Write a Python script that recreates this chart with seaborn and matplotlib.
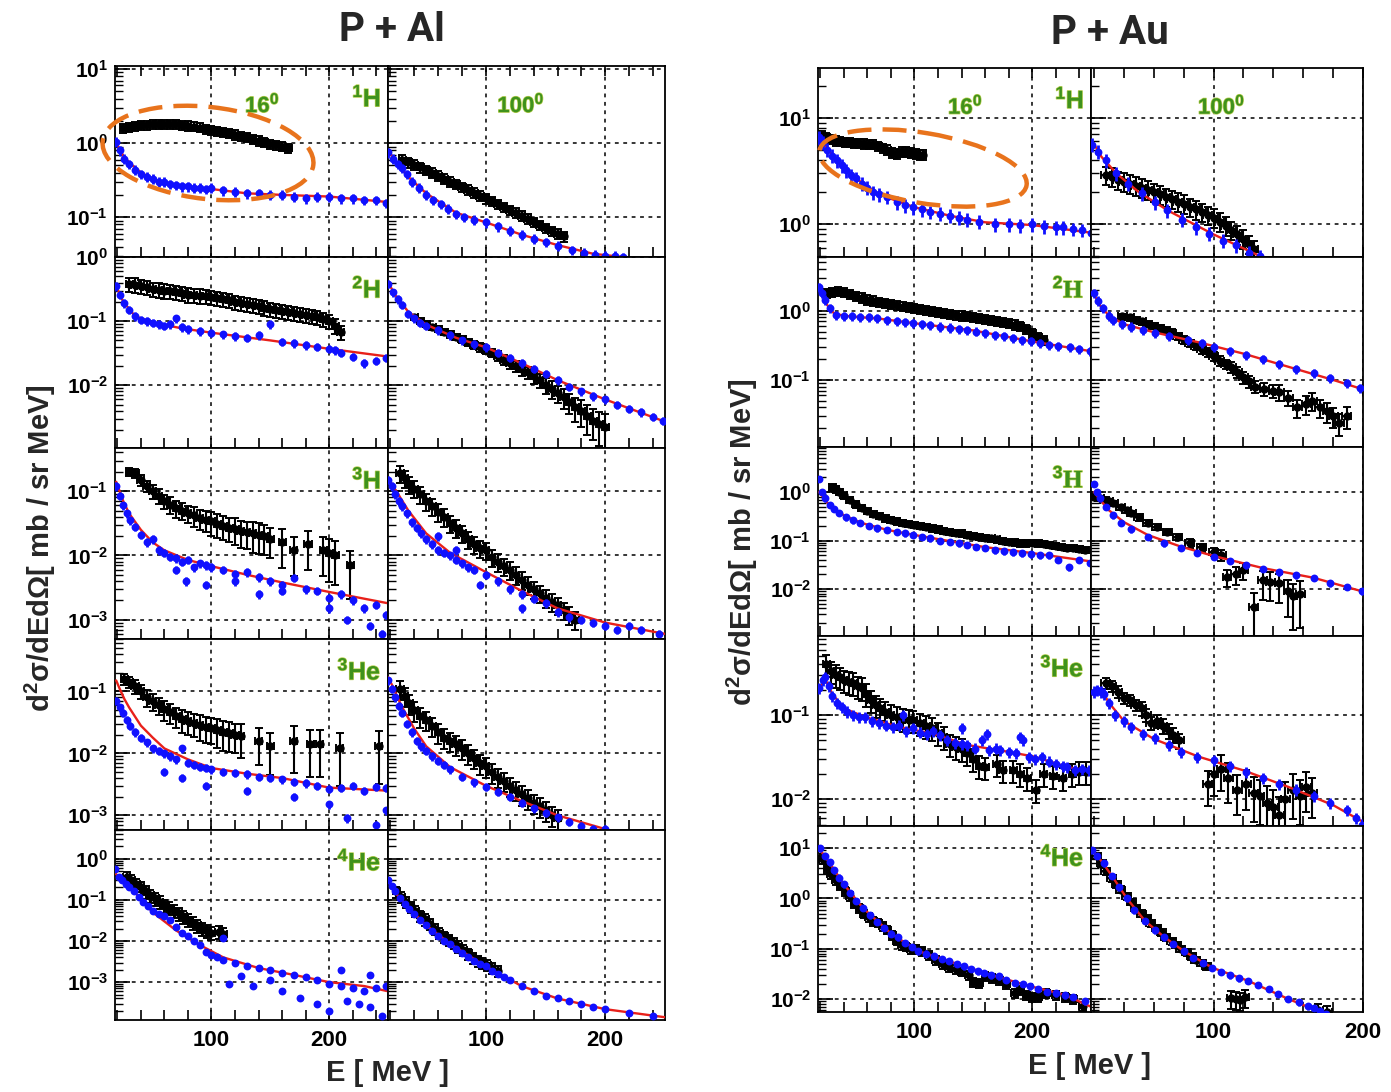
import numpy as np
import matplotlib
matplotlib.use("Agg")
import matplotlib.pyplot as plt
import matplotlib.patheffects as pe
from matplotlib import ticker
from matplotlib.patches import Ellipse
import seaborn as sns

# ============================ P + Al ============================
# ---- 1H, 16 deg
al16_h1_exp_e = [25, 30, 35, 40, 45, 50, 55, 60, 65, 70, 75, 80, 85, 90, 95, 100, 105, 110,
                 115, 120, 125, 130, 135, 140, 145, 150, 155, 160, 165]
al16_h1_exp_y = [1.60, 1.65, 1.70, 1.74, 1.77, 1.80, 1.81, 1.82, 1.81, 1.79, 1.76, 1.72, 1.67,
                 1.62, 1.56, 1.50, 1.45, 1.40, 1.35, 1.30, 1.25, 1.20, 1.14, 1.08, 1.03, 0.98,
                 0.94, 0.90, 0.86]
al16_h1_exp_dy = 0.14
al16_h1_blue_e = [19, 22, 26, 30, 35, 40, 45, 50, 55, 60, 65, 70, 75, 80, 85, 90, 95, 100, 110,
                  120, 130, 140, 150, 160, 170, 180, 190, 200, 210, 220, 230, 240, 248]
al16_h1_blue_y = [1.05, 0.80, 0.62, 0.52, 0.44, 0.38, 0.35, 0.33, 0.30, 0.30, 0.28, 0.27, 0.26,
                  0.26, 0.25, 0.25, 0.24, 0.25, 0.23, 0.22, 0.21, 0.21, 0.20, 0.20, 0.19, 0.18,
                  0.19, 0.19, 0.18, 0.18, 0.17, 0.17, 0.155]
al16_h1_red_e = [19, 25, 30, 40, 50, 60, 80, 100, 130, 160, 200, 250]
al16_h1_red_y = [1.0, 0.68, 0.55, 0.40, 0.33, 0.29, 0.26, 0.24, 0.21, 0.20, 0.19, 0.16]

# ---- 1H, 100 deg
al100_h1_exp_e = [30, 35, 40, 45, 50, 55, 60, 65, 70, 75, 80, 85, 90, 95, 100, 105, 110, 115,
                  120, 125, 130, 135, 140, 145, 150, 155, 160, 165]
al100_h1_exp_y = [0.60, 0.55, 0.51, 0.47, 0.43, 0.40, 0.36, 0.33, 0.30, 0.28, 0.255, 0.235,
                  0.215, 0.195, 0.18, 0.165, 0.15, 0.137, 0.125, 0.114, 0.104, 0.095, 0.086,
                  0.078, 0.071, 0.065, 0.060, 0.055]
al100_h1_exp_dy = 0.15
al100_h1_blue_e = [18, 22, 26, 30, 34, 38, 44, 50, 56, 62, 68, 75, 82, 90, 100, 110, 120, 130,
                   140, 150, 160, 172, 182, 191, 200, 208, 215]
al100_h1_blue_y = [0.75, 0.62, 0.52, 0.46, 0.38, 0.30, 0.25, 0.20, 0.17, 0.15, 0.13, 0.11, 0.10,
                   0.092, 0.085, 0.075, 0.066, 0.058, 0.051, 0.046, 0.041, 0.036, 0.033, 0.031,
                   0.030, 0.030, 0.029]
al100_h1_red_e = [18, 25, 35, 50, 75, 100, 130, 160, 190, 215]
al100_h1_red_y = [0.8, 0.55, 0.35, 0.21, 0.115, 0.085, 0.058, 0.042, 0.032, 0.029]

# ---- 2H, 16 deg
al16_h2_exp_e = [30, 35, 40, 45, 50, 55, 60, 65, 70, 75, 80, 85, 90, 95, 100, 105, 110, 115,
                 120, 125, 130, 135, 140, 145, 150, 155, 160, 165, 170, 175, 180, 185, 190,
                 195, 200, 205, 210]
al16_h2_exp_y = [0.38, 0.37, 0.35, 0.34, 0.32, 0.31, 0.30, 0.29, 0.28, 0.27, 0.26, 0.255, 0.25,
                 0.245, 0.24, 0.23, 0.22, 0.21, 0.20, 0.19, 0.185, 0.177, 0.17, 0.162, 0.155,
                 0.15, 0.145, 0.14, 0.135, 0.13, 0.125, 0.12, 0.115, 0.108, 0.10, 0.085, 0.068]
al16_h2_exp_dy = 0.25
al16_h2_blue_e = [19, 22, 26, 30, 35, 40, 45, 50, 55, 60, 65, 70, 75, 80, 90, 100, 110, 120,
                  130, 140, 150, 160, 170, 180, 190, 200, 205, 210, 220, 230, 240, 248]
al16_h2_blue_y = [0.35, 0.26, 0.19, 0.15, 0.12, 0.105, 0.10, 0.095, 0.09, 0.085, 0.09, 0.11,
                  0.08, 0.075, 0.07, 0.066, 0.062, 0.058, 0.055, 0.06, 0.09, 0.048, 0.045,
                  0.042, 0.04, 0.037, 0.035, 0.032, 0.028, 0.022, 0.024, 0.027]
al16_h2_red_e = [19, 25, 35, 50, 75, 100, 150, 200, 250]
al16_h2_red_y = [0.35, 0.20, 0.12, 0.095, 0.077, 0.066, 0.05, 0.037, 0.028]

# ---- 2H, 100 deg
al100_h2_exp_e = [40, 45, 50, 55, 60, 65, 70, 75, 80, 85, 90, 95, 100, 105, 110, 115, 120, 125,
                  130, 135, 140, 145, 150, 155, 160, 165, 170, 175, 180, 185, 190, 195, 200]
al100_h2_exp_y = [0.115, 0.10, 0.09, 0.08, 0.075, 0.068, 0.062, 0.057, 0.052, 0.047, 0.043,
                  0.039, 0.036, 0.032, 0.029, 0.025, 0.022, 0.020, 0.018, 0.016, 0.014, 0.012,
                  0.010, 0.0088, 0.0076, 0.0065, 0.0055, 0.0045, 0.0040, 0.0033, 0.0028,
                  0.0025, 0.0022]
al100_h2_exp_dy = [0.10, 0.10, 0.10, 0.10, 0.10, 0.10, 0.12, 0.12, 0.12, 0.12, 0.15, 0.15, 0.15,
                   0.15, 0.18, 0.18, 0.2, 0.2, 0.22, 0.22, 0.25, 0.25, 0.28, 0.3, 0.3, 0.35,
                   0.35, 0.4, 0.45, 0.5, 0.5, 0.55, 0.6]
al100_h2_blue_e = [18, 22, 26, 30, 35, 40, 45, 50, 60, 70, 80, 90, 100, 110, 120, 130, 140, 150,
                   160, 170, 180, 190, 200, 210, 220, 230, 240, 248]
al100_h2_blue_y = [0.38, 0.28, 0.22, 0.18, 0.13, 0.11, 0.095, 0.085, 0.072, 0.06, 0.05, 0.044,
                   0.039, 0.032, 0.027, 0.022, 0.018, 0.015, 0.012, 0.0095, 0.008, 0.0068,
                   0.006, 0.005, 0.0043, 0.0038, 0.0032, 0.0028]
al100_h2_red_e = [18, 25, 35, 50, 75, 100, 130, 160, 200, 250]
al100_h2_red_y = [0.40, 0.24, 0.14, 0.088, 0.055, 0.039, 0.022, 0.012, 0.006, 0.0027]

# ---- 3H, 16 deg
al16_h3_exp_e = [30, 35, 40, 45, 50, 55, 60, 65, 70, 75, 80, 85, 90, 95, 100, 105, 110, 115,
                 120, 125, 130, 135, 140, 145, 150, 160, 170, 182, 195, 200, 205, 218]
al16_h3_exp_y = [0.20, 0.19, 0.15, 0.12, 0.10, 0.085, 0.07, 0.062, 0.055, 0.05, 0.045, 0.042,
                 0.038, 0.036, 0.034, 0.031, 0.029, 0.027, 0.026, 0.024, 0.023, 0.022, 0.021,
                 0.02, 0.018, 0.016, 0.012, 0.015, 0.012, 0.011, 0.01, 0.007]
al16_h3_exp_dy = [0.15, 0.15, 0.2, 0.2, 0.25, 0.25, 0.25, 0.3, 0.3, 0.3, 0.3, 0.35, 0.35, 0.35,
                  0.4, 0.4, 0.4, 0.4, 0.45, 0.45, 0.45, 0.5, 0.5, 0.5, 0.5, 0.6, 0.6, 0.6, 0.6,
                  0.65, 0.65, 0.7]
al16_h3_blue_e = [19, 22, 25, 28, 31, 35, 40, 45, 50, 55, 60, 65, 70, 75, 80, 85, 90, 95, 100,
                  110, 120, 130, 140, 150, 160, 170, 180, 190, 200, 210, 220, 230, 240, 248,
                  70, 78, 95, 120, 140, 160, 200, 215, 235, 245]
al16_h3_blue_y = [0.12, 0.085, 0.06, 0.045, 0.035, 0.028, 0.021, 0.016, 0.018, 0.012, 0.011,
                  0.0095, 0.009, 0.008, 0.0085, 0.0065, 0.0075, 0.007, 0.0066, 0.006, 0.0052,
                  0.0055, 0.0046, 0.004, 0.0035, 0.0045, 0.003, 0.0028, 0.0022, 0.0025, 0.002,
                  0.0015, 0.0017, 0.0012,
                  0.006, 0.004, 0.0035, 0.004, 0.0025, 0.0028, 0.0015, 0.001, 0.0008, 0.0006]
al16_h3_red_e = [19, 25, 30, 40, 50, 60, 80, 100, 130, 160, 200, 250]
al16_h3_red_y = [0.14, 0.07, 0.045, 0.025, 0.016, 0.012, 0.0085, 0.0068, 0.005, 0.0038, 0.0027,
                 0.0018]

# ---- 3H, 100 deg
al100_h3_exp_e = [28, 32, 36, 40, 45, 50, 55, 60, 65, 70, 75, 80, 85, 90, 95, 100, 105, 110,
                  115, 120, 125, 130, 135, 140, 145, 150, 155, 160, 165, 170, 175]
al100_h3_exp_y = [0.19, 0.16, 0.13, 0.11, 0.09, 0.07, 0.058, 0.048, 0.04, 0.032, 0.027, 0.022,
                  0.018, 0.015, 0.013, 0.012, 0.0095, 0.008, 0.0068, 0.006, 0.005, 0.0042,
                  0.0035, 0.003, 0.0026, 0.0022, 0.0019, 0.0017, 0.0014, 0.0012, 0.001]
al100_h3_exp_dy = 0.3
al100_h3_blue_e = [18, 21, 24, 27, 30, 34, 38, 42, 46, 50, 55, 60, 65, 70, 75, 80, 85, 90, 100,
                   110, 120, 130, 140, 150, 160, 170, 180, 190, 200, 210, 220, 230, 245,
                   60, 75, 95, 130]
al100_h3_blue_y = [0.15, 0.12, 0.09, 0.07, 0.058, 0.045, 0.033, 0.027, 0.022, 0.018, 0.015,
                   0.012, 0.011, 0.01, 0.0085, 0.0075, 0.0065, 0.006, 0.005, 0.004, 0.003,
                   0.0025, 0.0021, 0.0018, 0.0013, 0.0011, 0.001, 0.0009, 0.0008, 0.0007,
                   0.0008, 0.0007, 0.0006,
                   0.02, 0.012, 0.0035, 0.0015]
al100_h3_red_e = [18, 25, 35, 50, 70, 100, 130, 160, 200, 250]
al100_h3_red_y = [0.16, 0.10, 0.05, 0.022, 0.011, 0.0055, 0.0028, 0.0015, 0.0009, 0.0006]

# ---- 3He, 16 deg
al16_he3_exp_e = [26, 30, 35, 40, 45, 50, 55, 60, 65, 70, 75, 80, 85, 90, 95, 100, 105, 110,
                  115, 120, 125, 140, 150, 170, 184, 192, 209, 242]
al16_he3_exp_y = [0.16, 0.14, 0.12, 0.10, 0.08, 0.07, 0.06, 0.052, 0.046, 0.04, 0.036, 0.033,
                  0.031, 0.029, 0.027, 0.026, 0.024, 0.022, 0.021, 0.02, 0.019, 0.016, 0.013,
                  0.016, 0.014, 0.014, 0.012, 0.013]
al16_he3_exp_dy = [0.2, 0.2, 0.25, 0.25, 0.3, 0.3, 0.3, 0.35, 0.35, 0.35, 0.4, 0.4, 0.4, 0.45,
                   0.45, 0.45, 0.5, 0.5, 0.5, 0.5, 0.55, 0.6, 0.65, 0.7, 0.7, 0.7, 0.75, 0.75]
al16_he3_blue_e = [19, 22, 25, 28, 31, 35, 40, 45, 50, 55, 60, 65, 70, 75, 80, 85, 90, 95, 100,
                   110, 120, 130, 140, 150, 160, 170, 180, 190, 200, 210, 220, 230, 240, 248,
                   60, 75, 95, 130, 170, 200, 215, 240, 248]
al16_he3_blue_y = [0.07, 0.055, 0.045, 0.035, 0.028, 0.022, 0.018, 0.015, 0.012, 0.011, 0.01,
                   0.009, 0.008, 0.012, 0.007, 0.0065, 0.006, 0.0058, 0.0055, 0.005, 0.0048,
                   0.0046, 0.0042, 0.004, 0.0038, 0.0035, 0.0033, 0.003, 0.0027, 0.0028, 0.003,
                   0.0025, 0.0029, 0.0028,
                   0.005, 0.004, 0.003, 0.0025, 0.002, 0.0015, 0.0009, 0.0007, 0.0012]
al16_he3_red_e = [19, 22, 26, 30, 40, 50, 60, 80, 100, 130, 160, 200, 250]
al16_he3_red_y = [0.15, 0.11, 0.075, 0.055, 0.028, 0.018, 0.012, 0.008, 0.0058, 0.0047, 0.004,
                  0.0028, 0.0025]

# ---- 3He, 100 deg
al100_he3_exp_e = [28, 32, 36, 40, 45, 50, 55, 60, 65, 70, 75, 80, 85, 90, 95, 100, 105, 110,
                   115, 120, 125, 130, 135, 140, 145, 150, 155, 160]
al100_he3_exp_y = [0.11, 0.085, 0.065, 0.05, 0.04, 0.035, 0.028, 0.022, 0.018, 0.016, 0.014,
                   0.012, 0.01, 0.0085, 0.007, 0.0062, 0.005, 0.0042, 0.0036, 0.003, 0.0026,
                   0.0022, 0.0019, 0.0016, 0.0014, 0.0012, 0.001, 0.0009]
al100_he3_exp_dy = 0.35
al100_he3_blue_e = [18, 21, 24, 27, 30, 34, 38, 42, 46, 50, 55, 60, 65, 70, 80, 90, 100, 110,
                    120, 130, 140, 150, 160, 170, 180, 190, 200]
al100_he3_blue_y = [0.15, 0.11, 0.08, 0.058, 0.045, 0.03, 0.022, 0.016, 0.013, 0.011, 0.009,
                    0.0075, 0.0065, 0.0055, 0.0042, 0.0034, 0.0029, 0.0024, 0.002, 0.0016,
                    0.0013, 0.0011, 0.00093, 0.00078, 0.00068, 0.0006, 0.0006]
al100_he3_red_e = [18, 22, 26, 30, 40, 50, 70, 100, 130, 160, 200]
al100_he3_red_y = [0.17, 0.12, 0.08, 0.055, 0.025, 0.013, 0.006, 0.003, 0.0017, 0.001, 0.0006]

# ---- 4He, 16 deg
al16_he4_exp_e = [28, 32, 36, 40, 44, 48, 52, 56, 60, 64, 68, 72, 76, 80, 84, 88, 92, 96, 100,
                  106, 110]
al16_he4_exp_y = [0.36, 0.30, 0.24, 0.20, 0.16, 0.13, 0.11, 0.09, 0.075, 0.065, 0.055, 0.048,
                  0.04, 0.033, 0.028, 0.024, 0.02, 0.018, 0.016, 0.017, 0.015]
al16_he4_exp_dy = 0.35
al16_he4_blue_e = [18, 21, 24, 27, 30, 34, 38, 42, 46, 50, 55, 60, 65, 70, 75, 80, 85, 90, 95,
                   100, 105, 110, 120, 130, 140, 150, 160, 170, 180, 190, 200, 210, 220, 230,
                   240, 248,
                   110, 115, 125, 135, 150, 160, 175, 190, 200, 215, 225, 235, 245, 210, 235]
al16_he4_blue_y = [0.55, 0.35, 0.3, 0.25, 0.2, 0.16, 0.12, 0.09, 0.07, 0.055, 0.045, 0.04,
                   0.032, 0.022, 0.016, 0.013, 0.01, 0.008, 0.0055, 0.0045, 0.004, 0.0035,
                   0.003, 0.0024, 0.0022, 0.002, 0.0017, 0.0015, 0.0013, 0.0011, 0.0009,
                   0.0008, 0.0007, 0.0006, 0.0007, 0.0008,
                   0.012, 0.0009, 0.0014, 0.0008, 0.0011, 0.0006, 0.0004, 0.0003, 0.0002,
                   0.00035, 0.0003, 0.00025, 0.00015, 0.002, 0.0015]
al16_he4_red_e = [18, 25, 35, 50, 70, 90, 110, 140, 170, 200, 230, 250]
al16_he4_red_y = [0.45, 0.28, 0.15, 0.05, 0.018, 0.008, 0.004, 0.0022, 0.0015, 0.001, 0.0008,
                  0.0006]

# ---- 4He, 100 deg
al100_he4_exp_e = [25, 29, 33, 37, 41, 45, 49, 53, 57, 61, 65, 69, 73, 77, 81, 85, 89, 93, 97,
                   101, 105, 110]
al100_he4_exp_y = [0.16, 0.12, 0.09, 0.07, 0.055, 0.042, 0.034, 0.026, 0.02, 0.016, 0.013,
                   0.011, 0.009, 0.0075, 0.006, 0.005, 0.004, 0.0034, 0.003, 0.0026, 0.0022,
                   0.0019]
al100_he4_exp_dy = 0.3
al100_he4_blue_e = [18, 21, 24, 28, 32, 36, 40, 45, 50, 55, 60, 65, 70, 75, 80, 85, 90, 95, 100,
                    105, 110, 115, 120, 130, 140, 150, 160, 170, 180, 190, 200, 220, 240]
al100_he4_blue_y = [0.31, 0.22, 0.16, 0.11, 0.08, 0.06, 0.045, 0.032, 0.024, 0.018, 0.013,
                    0.01, 0.0085, 0.0065, 0.005, 0.004, 0.0033, 0.0028, 0.0024, 0.0019, 0.0016,
                    0.0013, 0.0011, 0.0008, 0.0006, 0.00045, 0.0004, 0.00035, 0.0003, 0.00025,
                    0.00022, 0.00018, 0.00015]
al100_he4_red_e = [18, 25, 35, 50, 70, 100, 130, 160, 200, 250]
al100_he4_red_y = [0.3, 0.14, 0.065, 0.024, 0.0085, 0.0024, 0.0008, 0.0004, 0.00022, 0.00014]

# ============================ P + Au ============================
# ---- 1H, 16 deg
au16_h1_exp_e = [21, 25, 29, 33, 37, 41, 45, 49, 53, 57, 61, 65, 69, 73, 77, 81, 85, 89, 93,
                 97, 101, 105, 107]
au16_h1_exp_y = [6.9, 6.6, 6.3, 6.1, 6.0, 5.9, 5.9, 5.8, 5.8, 5.7, 5.6, 5.6, 5.4, 5.2, 5.0,
                 4.7, 4.6, 4.8, 4.8, 4.7, 4.6, 4.5, 4.5]
au16_h1_exp_dy = 0.1
au16_h1_blue_e = [19, 22, 26, 30, 34, 38, 42, 46, 50, 55, 60, 65, 70, 77, 85, 92, 99, 106, 113,
                  122, 130, 138, 145, 155, 168, 180, 190, 200, 210, 220, 226, 235, 242, 250]
au16_h1_blue_y = [6.6, 5.9, 5.0, 4.4, 4.0, 3.6, 3.2, 2.9, 2.7, 2.4, 2.2, 2.0, 1.9, 1.8, 1.6,
                  1.5, 1.44, 1.38, 1.3, 1.25, 1.2, 1.15, 1.1, 1.05, 1.0, 1.0, 0.98, 1.0, 0.95,
                  0.93, 0.93, 0.9, 0.88, 0.83]
au16_h1_red_e = [19, 25, 35, 50, 70, 100, 130, 160, 200, 250]
au16_h1_red_y = [6.8, 5.3, 3.8, 2.7, 1.9, 1.44, 1.2, 1.04, 0.98, 0.83]

# ---- 1H, 100 deg
au100_h1_exp_e = [28, 32, 36, 40, 44, 48, 52, 56, 60, 64, 68, 72, 76, 80, 84, 88, 92, 96, 100,
                  104, 108, 112, 116, 120, 124, 127]
au100_h1_exp_y = [2.9, 2.8, 2.6, 2.5, 2.4, 2.3, 2.2, 2.1, 2.0, 1.9, 1.8, 1.72, 1.63, 1.55, 1.45,
                  1.38, 1.3, 1.22, 1.15, 1.05, 0.97, 0.88, 0.8, 0.73, 0.65, 0.58]
au100_h1_exp_dy = 0.2
au100_h1_blue_e = [19, 23, 28, 35, 43, 52, 61, 69, 79, 88, 97, 106, 115, 124, 131]
au100_h1_blue_y = [5.6, 4.8, 4.0, 3.0, 2.4, 1.95, 1.6, 1.35, 1.1, 0.93, 0.81, 0.7, 0.63, 0.54,
                   0.5]
au100_h1_red_e = [19, 25, 35, 50, 70, 100, 131]
au100_h1_red_y = [6.0, 4.3, 3.0, 2.0, 1.33, 0.8, 0.5]

# ---- 2H, 16 deg
au16_h2_exp_e = [26, 30, 35, 40, 45, 50, 55, 60, 65, 70, 75, 80, 85, 90, 95, 100, 105, 110, 115,
                 120, 125, 130, 135, 140, 145, 150, 155, 160, 165, 170, 175, 180, 185, 190,
                 195, 200, 205, 210]
au16_h2_exp_y = [1.8, 1.85, 1.9, 1.85, 1.75, 1.65, 1.55, 1.45, 1.4, 1.35, 1.3, 1.25, 1.2, 1.15,
                 1.12, 1.1, 1.05, 1.02, 0.98, 0.95, 0.92, 0.9, 0.87, 0.85, 0.83, 0.8, 0.78,
                 0.76, 0.73, 0.7, 0.68, 0.66, 0.63, 0.6, 0.55, 0.48, 0.42, 0.38]
au16_h2_exp_dy = 0.15
au16_h2_blue_e = [19, 21, 24, 28, 33, 40, 47, 54, 61, 68, 77, 85, 92, 99, 106, 113, 122, 130,
                  138, 145, 152, 160, 168, 176, 184, 191, 199, 207, 214, 222, 232, 240, 249]
au16_h2_blue_y = [2.2, 1.8, 1.45, 1.1, 0.87, 0.84, 0.83, 0.82, 0.8, 0.78, 0.74, 0.71, 0.68,
                  0.66, 0.64, 0.62, 0.59, 0.57, 0.55, 0.53, 0.5, 0.48, 0.45, 0.43, 0.4, 0.38,
                  0.36, 0.34, 0.32, 0.31, 0.3, 0.28, 0.26]
au16_h2_red_e = [19, 22, 26, 32, 45, 70, 100, 150, 200, 250]
au16_h2_red_y = [2.2, 1.6, 1.2, 0.9, 0.83, 0.77, 0.66, 0.52, 0.36, 0.26]

# ---- 2H, 100 deg
au100_h2_exp_e = [39, 44, 48, 52, 56, 60, 64, 68, 72, 76, 80, 84, 88, 92, 96, 100, 104, 108,
                  112, 116, 120, 124, 128, 134, 140, 144, 150, 156, 162, 166, 171, 176, 180,
                  184, 189]
au100_h2_exp_y = [0.83, 0.8, 0.74, 0.7, 0.65, 0.6, 0.56, 0.53, 0.48, 0.43, 0.38, 0.34, 0.31,
                  0.28, 0.25, 0.22, 0.19, 0.17, 0.155, 0.13, 0.11, 0.095, 0.08, 0.075, 0.07,
                  0.067, 0.055, 0.04, 0.045, 0.05, 0.04, 0.035, 0.03, 0.024, 0.03]
au100_h2_exp_dy = [0.1, 0.1, 0.1, 0.1, 0.1, 0.1, 0.1, 0.1, 0.12, 0.12, 0.12, 0.12, 0.12, 0.15,
                   0.15, 0.15, 0.15, 0.15, 0.18, 0.18, 0.2, 0.2, 0.2, 0.22, 0.22, 0.25, 0.25,
                   0.3, 0.3, 0.3, 0.3, 0.32, 0.32, 0.35, 0.35]
au100_h2_blue_e = [20, 23, 26, 30, 33, 39, 45, 53, 61, 70, 83, 92, 100, 111, 122, 133, 144, 155,
                   167, 178, 189, 198]
au100_h2_blue_y = [1.8, 1.4, 1.1, 0.85, 0.74, 0.65, 0.59, 0.53, 0.48, 0.43, 0.38, 0.34, 0.3,
                   0.26, 0.23, 0.2, 0.17, 0.145, 0.126, 0.105, 0.09, 0.076]
au100_h2_red_e = [19, 24, 30, 40, 60, 90, 120, 150, 180, 200]
au100_h2_red_y = [1.9, 1.2, 0.85, 0.64, 0.49, 0.35, 0.24, 0.155, 0.1, 0.073]

# ---- 3H, 16 deg
au16_h3_exp_e = [30, 33, 36, 40, 45, 50, 55, 60, 65, 70, 75, 80, 85, 90, 95, 100, 105, 110, 115,
                 120, 125, 130, 135, 140, 145, 150, 155, 160, 165, 170, 175, 180, 185, 190,
                 195, 200, 205, 210, 215, 220, 225, 230, 235, 240, 245]
au16_h3_exp_y = [1.26, 1.15, 1.0, 0.85, 0.69, 0.56, 0.47, 0.41, 0.36, 0.32, 0.29, 0.27, 0.25,
                 0.23, 0.22, 0.21, 0.2, 0.19, 0.18, 0.17, 0.16, 0.15, 0.145, 0.14, 0.13, 0.125,
                 0.12, 0.115, 0.11, 0.105, 0.1, 0.095, 0.092, 0.088, 0.088, 0.089, 0.087,
                 0.085, 0.082, 0.078, 0.075, 0.07, 0.07, 0.068, 0.065]
au16_h3_exp_dy = 0.15
au16_h3_blue_e = [19, 21, 24, 28, 32, 36, 42, 48, 54, 61, 68, 77, 85, 92, 99, 106, 113, 122,
                  130, 138, 145, 152, 160, 168, 176, 184, 191, 199, 207, 214, 222, 231, 240, 249]
au16_h3_blue_y = [1.9, 1.0, 0.75, 0.55, 0.45, 0.37, 0.3, 0.26, 0.23, 0.2, 0.18, 0.165, 0.15,
                  0.14, 0.13, 0.12, 0.11, 0.1, 0.095, 0.088, 0.081, 0.075, 0.07, 0.063, 0.06,
                  0.057, 0.055, 0.052, 0.05, 0.05, 0.04, 0.028, 0.04, 0.035]
au16_h3_red_e = [19, 22, 26, 32, 40, 55, 77, 100, 130, 160, 200, 250]
au16_h3_red_y = [1.0, 0.8, 0.6, 0.45, 0.33, 0.23, 0.165, 0.13, 0.097, 0.073, 0.055, 0.037]

# ---- 3H, 100 deg
au100_h3_exp_e = [20, 24, 27, 30, 33, 38, 42, 45, 50, 56, 62, 69, 76, 84, 92, 100, 105, 109,
                  115, 120, 127, 133, 138, 144, 150, 153, 158]
au100_h3_exp_y = [0.8, 0.75, 0.7, 0.65, 0.59, 0.48, 0.42, 0.37, 0.3, 0.23, 0.19, 0.15, 0.12,
                  0.089, 0.072, 0.059, 0.05, 0.018, 0.02, 0.025, 0.0043, 0.015, 0.014, 0.013,
                  0.009, 0.007, 0.008]
au100_h3_exp_dy = [0.12, 0.12, 0.12, 0.12, 0.12, 0.12, 0.12, 0.12, 0.15, 0.15, 0.15, 0.15,
                   0.15, 0.2, 0.2, 0.2, 0.25, 0.4, 0.4, 0.4, 0.9, 0.6, 0.6, 0.6, 0.7, 0.8, 0.8]
au100_h3_blue_e = [20, 22, 24, 28, 33, 38, 45, 56, 67, 78, 89, 100, 111, 122, 133, 144, 155,
                   167, 178, 189, 199]
au100_h3_blue_y = [1.5, 1.0, 0.75, 0.5, 0.33, 0.23, 0.17, 0.12, 0.088, 0.07, 0.056, 0.046,
                   0.038, 0.031, 0.026, 0.022, 0.019, 0.017, 0.013, 0.011, 0.009]
au100_h3_red_e = [20, 24, 30, 40, 56, 78, 100, 133, 167, 199]
au100_h3_red_y = [1.0, 0.7, 0.42, 0.24, 0.13, 0.075, 0.048, 0.027, 0.017, 0.009]

# ---- 3He, 16 deg
au16_he3_exp_e = [25, 29, 33, 37, 40, 44, 48, 52, 55, 59, 63, 67, 71, 75, 80, 85, 90, 95, 99,
                  105, 110, 115, 120, 125, 130, 135, 140, 145, 150, 155, 160, 170, 175, 184,
                  190, 196, 203, 210, 218, 226, 234, 240, 246]
au16_he3_exp_y = [0.4, 0.33, 0.3, 0.28, 0.26, 0.25, 0.24, 0.22, 0.21, 0.18, 0.15, 0.13, 0.12,
                  0.11, 0.1, 0.095, 0.09, 0.088, 0.087, 0.08, 0.075, 0.07, 0.062, 0.055, 0.045,
                  0.042, 0.04, 0.035, 0.03, 0.025, 0.024, 0.026, 0.022, 0.022, 0.02, 0.018,
                  0.013, 0.02, 0.019, 0.018, 0.02, 0.021, 0.021]
au16_he3_exp_dy = 0.3
au16_he3_blue_e = [19, 22, 24, 27, 30, 34, 38, 43, 48, 53, 58, 64, 70, 76, 82, 87, 93, 99, 105,
                   111, 116, 122, 128, 134, 140, 145, 151, 157, 163, 169, 173, 180, 186, 192,
                   197, 202, 208, 214, 220, 226, 230, 236, 242, 248,
                   90, 140, 162, 190]
au16_he3_blue_y = [0.21, 0.26, 0.28, 0.22, 0.17, 0.14, 0.125, 0.11, 0.1, 0.095, 0.095, 0.085,
                   0.08, 0.075, 0.072, 0.075, 0.065, 0.07, 0.062, 0.06, 0.065, 0.058, 0.05,
                   0.047, 0.045, 0.044, 0.04, 0.05, 0.038, 0.04, 0.038, 0.036, 0.035, 0.05,
                   0.032, 0.03, 0.032, 0.028, 0.026, 0.025, 0.024, 0.022, 0.023, 0.022,
                   0.1, 0.07, 0.06, 0.055]
au16_he3_red_e = [19, 24, 30, 40, 58, 87, 116, 145, 173, 202, 230, 248]
au16_he3_red_y = [0.2, 0.27, 0.18, 0.12, 0.095, 0.072, 0.06, 0.044, 0.038, 0.032, 0.024, 0.022]

# ---- 3He, 100 deg
au100_he3_exp_e = [28, 32, 36, 40, 44, 48, 52, 55, 58, 62, 66, 70, 73, 77, 96, 100, 105, 110,
                   116, 122, 127, 131, 136, 140, 144, 148, 153, 158, 162, 166]
au100_he3_exp_y = [0.24, 0.22, 0.19, 0.16, 0.15, 0.13, 0.12, 0.1, 0.08, 0.085, 0.075, 0.065,
                   0.058, 0.05, 0.015, 0.02, 0.023, 0.018, 0.013, 0.015, 0.012, 0.011, 0.009,
                   0.008, 0.0065, 0.01, 0.013, 0.011, 0.014, 0.012]
au100_he3_exp_dy = [0.15, 0.15, 0.15, 0.15, 0.15, 0.15, 0.18, 0.18, 0.18, 0.18, 0.2, 0.2, 0.2,
                    0.2, 0.45, 0.45, 0.45, 0.5, 0.5, 0.5, 0.55, 0.55, 0.6, 0.6, 0.65, 0.6, 0.55,
                    0.55, 0.5, 0.5]
au100_he3_blue_e = [20, 22, 25, 27, 30, 34, 40, 45, 53, 61, 70, 78, 89, 100, 111, 122, 133,
                    144, 155, 167, 178, 189, 195, 199]
au100_he3_blue_y = [0.19, 0.2, 0.19, 0.18, 0.14, 0.1, 0.085, 0.072, 0.06, 0.053, 0.044, 0.036,
                    0.032, 0.029, 0.025, 0.021, 0.018, 0.015, 0.013, 0.011, 0.009, 0.0074,
                    0.006, 0.005]
au100_he3_red_e = [20, 25, 30, 40, 60, 90, 120, 150, 180, 199]
au100_he3_red_y = [0.18, 0.2, 0.14, 0.085, 0.052, 0.032, 0.022, 0.014, 0.0085, 0.0055]

# ---- 4He, 16 deg
au16_he4_exp_e = [22, 26, 29, 33, 37, 41, 45, 49, 53, 57, 61, 65, 69, 73, 77, 81, 85, 89, 93,
                  97, 101, 106, 112, 118, 124, 129, 135, 140, 146, 150, 155, 160, 166, 172,
                  178, 185, 190, 195, 200, 205, 212, 220, 228, 235, 243]
au16_he4_exp_y = [6, 4, 3.0, 2.3, 1.8, 1.4, 1.1, 0.8, 0.65, 0.5, 0.42, 0.36, 0.33, 0.28, 0.24,
                  0.19, 0.145, 0.12, 0.11, 0.1, 0.1, 0.09, 0.075, 0.06, 0.05, 0.043, 0.04,
                  0.035, 0.03, 0.022, 0.021, 0.028, 0.026, 0.024, 0.02, 0.013, 0.015, 0.012,
                  0.011, 0.011, 0.013, 0.012, 0.011, 0.01, 0.0072]
au16_he4_exp_dy = 0.2
au16_he4_blue_e = [20, 24, 28, 32, 36, 40, 45, 50, 56, 62, 68, 74, 80, 86, 92, 98, 103, 110,
                   117, 123, 129, 136, 142, 148, 154, 159, 165, 172, 178, 185, 192, 198, 205,
                   213, 220, 228, 235, 245]
au16_he4_blue_y = [10, 7, 5.2, 3.6, 2.6, 1.9, 1.3, 0.9, 0.65, 0.46, 0.34, 0.26, 0.2, 0.17, 0.13,
                   0.11, 0.09, 0.08, 0.07, 0.063, 0.057, 0.05, 0.045, 0.04, 0.036, 0.033, 0.03,
                   0.028, 0.024, 0.021, 0.02, 0.018, 0.016, 0.014, 0.013, 0.012, 0.011, 0.009]
au16_he4_red_e = [20, 28, 40, 56, 80, 103, 136, 165, 198, 228, 250]
au16_he4_red_y = [9, 5, 1.9, 0.65, 0.2, 0.09, 0.05, 0.03, 0.018, 0.012, 0.007]

# ---- 4He, 100 deg
au100_he4_exp_e = [22, 25, 28, 32, 35, 38, 42, 45, 48, 52, 55, 58, 62, 65, 68, 72, 75, 78, 82,
                   85, 88, 92, 95, 112, 115, 118, 121, 170, 176]
au100_he4_exp_y = [7, 5, 3.5, 2.5, 1.9, 1.5, 1.1, 0.85, 0.65, 0.5, 0.4, 0.32, 0.26, 0.21, 0.17,
                   0.14, 0.12, 0.1, 0.085, 0.07, 0.06, 0.052, 0.045, 0.0105, 0.01, 0.0095,
                   0.011, 0.006, 0.0055]
au100_he4_exp_dy = [0.15, 0.15, 0.15, 0.15, 0.15, 0.15, 0.15, 0.15, 0.15, 0.15, 0.15, 0.15,
                    0.15, 0.15, 0.15, 0.15, 0.15, 0.15, 0.15, 0.15, 0.15, 0.15, 0.15, 0.4, 0.4,
                    0.4, 0.4, 0.3, 0.3]
au100_he4_blue_e = [19, 22, 27, 32, 37, 42, 47, 54, 61, 67, 73, 80, 86, 93, 99, 105, 111, 117,
                    123, 130, 137, 143, 150, 157, 163, 167, 171, 175]
au100_he4_blue_y = [9, 7, 5, 2.8, 1.66, 1.0, 0.58, 0.36, 0.23, 0.17, 0.126, 0.09, 0.066, 0.052,
                    0.042, 0.035, 0.03, 0.026, 0.023, 0.019, 0.016, 0.0126, 0.01, 0.0085,
                    0.0072, 0.0066, 0.0058, 0.005]
au100_he4_red_e = [19, 25, 32, 42, 54, 67, 80, 99, 123, 150, 175]
au100_he4_red_y = [9, 5.5, 2.8, 1.0, 0.36, 0.17, 0.09, 0.042, 0.023, 0.01, 0.005]

# text
particle_labels = [r"$^{1}$H", r"$^{2}$H", r"$^{3}$H", r"$^{3}$He", r"$^{4}$He"]
angle_labels = [r"$16^{0}$", r"$100^{0}$"]
x_tick_values = [100, 200]

# y ranges of each row
al_ylims = [(0.029, 11.0), (1.05e-3, 1.0), (5.0e-4, 0.47), (5.8e-4, 0.70), (1.2e-4, 5.0)]
au_ylims = [(0.49, 29.5), (0.0107, 6.0), (1.07e-3, 8.5), (4.8e-3, 0.87), (5.5e-3, 27.5)]
al_xlims = [(18, 250), (18, 250)]
au_xlims = [(18, 250), (18, 200)]

EXP_HALF_BIN = 3.0
BLUE_REL_ERR = 0.15
BLUE = "#1010ff"
RED = "#e8201a"
GREEN = "#3f921c"
ORANGE = "#e8731c"

al_panels = [
    [(al16_h1_exp_e, al16_h1_exp_y, al16_h1_exp_dy, al16_h1_blue_e, al16_h1_blue_y, al16_h1_red_e, al16_h1_red_y),
     (al100_h1_exp_e, al100_h1_exp_y, al100_h1_exp_dy, al100_h1_blue_e, al100_h1_blue_y, al100_h1_red_e, al100_h1_red_y)],
    [(al16_h2_exp_e, al16_h2_exp_y, al16_h2_exp_dy, al16_h2_blue_e, al16_h2_blue_y, al16_h2_red_e, al16_h2_red_y),
     (al100_h2_exp_e, al100_h2_exp_y, al100_h2_exp_dy, al100_h2_blue_e, al100_h2_blue_y, al100_h2_red_e, al100_h2_red_y)],
    [(al16_h3_exp_e, al16_h3_exp_y, al16_h3_exp_dy, al16_h3_blue_e, al16_h3_blue_y, al16_h3_red_e, al16_h3_red_y),
     (al100_h3_exp_e, al100_h3_exp_y, al100_h3_exp_dy, al100_h3_blue_e, al100_h3_blue_y, al100_h3_red_e, al100_h3_red_y)],
    [(al16_he3_exp_e, al16_he3_exp_y, al16_he3_exp_dy, al16_he3_blue_e, al16_he3_blue_y, al16_he3_red_e, al16_he3_red_y),
     (al100_he3_exp_e, al100_he3_exp_y, al100_he3_exp_dy, al100_he3_blue_e, al100_he3_blue_y, al100_he3_red_e, al100_he3_red_y)],
    [(al16_he4_exp_e, al16_he4_exp_y, al16_he4_exp_dy, al16_he4_blue_e, al16_he4_blue_y, al16_he4_red_e, al16_he4_red_y),
     (al100_he4_exp_e, al100_he4_exp_y, al100_he4_exp_dy, al100_he4_blue_e, al100_he4_blue_y, al100_he4_red_e, al100_he4_red_y)],
]
au_panels = [
    [(au16_h1_exp_e, au16_h1_exp_y, au16_h1_exp_dy, au16_h1_blue_e, au16_h1_blue_y, au16_h1_red_e, au16_h1_red_y),
     (au100_h1_exp_e, au100_h1_exp_y, au100_h1_exp_dy, au100_h1_blue_e, au100_h1_blue_y, au100_h1_red_e, au100_h1_red_y)],
    [(au16_h2_exp_e, au16_h2_exp_y, au16_h2_exp_dy, au16_h2_blue_e, au16_h2_blue_y, au16_h2_red_e, au16_h2_red_y),
     (au100_h2_exp_e, au100_h2_exp_y, au100_h2_exp_dy, au100_h2_blue_e, au100_h2_blue_y, au100_h2_red_e, au100_h2_red_y)],
    [(au16_h3_exp_e, au16_h3_exp_y, au16_h3_exp_dy, au16_h3_blue_e, au16_h3_blue_y, au16_h3_red_e, au16_h3_red_y),
     (au100_h3_exp_e, au100_h3_exp_y, au100_h3_exp_dy, au100_h3_blue_e, au100_h3_blue_y, au100_h3_red_e, au100_h3_red_y)],
    [(au16_he3_exp_e, au16_he3_exp_y, au16_he3_exp_dy, au16_he3_blue_e, au16_he3_blue_y, au16_he3_red_e, au16_he3_red_y),
     (au100_he3_exp_e, au100_he3_exp_y, au100_he3_exp_dy, au100_he3_blue_e, au100_he3_blue_y, au100_he3_red_e, au100_he3_red_y)],
    [(au16_he4_exp_e, au16_he4_exp_y, au16_he4_exp_dy, au16_he4_blue_e, au16_he4_blue_y, au16_he4_red_e, au16_he4_red_y),
     (au100_he4_exp_e, au100_he4_exp_y, au100_he4_exp_dy, au100_he4_blue_e, au100_he4_blue_y, au100_he4_red_e, au100_he4_red_y)],
]

sns.set_theme(style="ticks")
plt.rcParams.update({
    "font.family": ["Liberation Sans", "DejaVu Sans"],
    "font.weight": "bold",
    "mathtext.fontset": "custom",
    "mathtext.rm": "Liberation Sans:bold",
    "mathtext.it": "Liberation Sans:bold:italic",
    "mathtext.bf": "Liberation Sans:bold",
    "mathtext.sf": "Liberation Sans:bold",
    "axes.linewidth": 1.3,
    "axes.edgecolor": "black",
    "axes.facecolor": "white",
    "xtick.color": "black",
    "ytick.color": "black",
})

W, H = 1391, 1092
fig = plt.figure(figsize=(W / 100, H / 100), dpi=100)
fig.patch.set_facecolor("white")


def px_axes(x0, x1, y0, y1):
    return fig.add_axes([x0 / W, 1 - y1 / H, (x1 - x0) / W, (y1 - y0) / H])


def decade_label(v, pos):
    return r"$10^{%d}$" % int(round(np.log10(v)))


def draw_panel(ax, exp_e, exp_y, exp_dy, blue_e, blue_y, red_e, red_y):
    ey = np.asarray(exp_y, float)
    up = np.asarray(exp_dy, float) * ey
    lo = np.minimum(up, 0.85 * ey)
    ax.errorbar(exp_e, ey, yerr=[lo, up], xerr=EXP_HALF_BIN, fmt="o", color="black",
                ms=5.0, elinewidth=1.5, capsize=3.0, capthick=1.4, zorder=3)
    sns.lineplot(x=red_e, y=red_y, ax=ax, color=RED, lw=1.7, estimator=None, sort=False,
                 zorder=4)
    by = np.asarray(blue_y, float)
    ax.errorbar(blue_e, by, yerr=BLUE_REL_ERR * by, xerr=1.5, fmt="none", ecolor=BLUE,
                elinewidth=2.0, zorder=5)
    sns.scatterplot(x=blue_e, y=by, ax=ax, color=BLUE, marker="o", s=32, linewidth=0,
                    zorder=6)


def style_panel(ax, xlim, ylim, top_row, bottom_row, left_col):
    ax.set_yscale("log")
    ax.set_xlim(*xlim)
    ax.set_ylim(*ylim)
    ax.set_xlabel("")
    ax.set_ylabel("")
    ax.xaxis.set_major_locator(ticker.FixedLocator(x_tick_values))
    ax.xaxis.set_minor_locator(ticker.MultipleLocator(20))
    ax.yaxis.set_major_locator(ticker.LogLocator(base=10, numticks=20))
    ax.yaxis.set_minor_locator(ticker.LogLocator(base=10, subs=np.arange(2, 10), numticks=20))
    ax.yaxis.set_major_formatter(ticker.FuncFormatter(decade_label))
    ax.yaxis.set_minor_formatter(ticker.NullFormatter())
    ax.tick_params(axis="x", which="both", direction="in", length=7, width=1.2,
                   top=top_row, bottom=True, labelbottom=bottom_row, labelsize=16, pad=7)
    ax.tick_params(axis="y", which="major", direction="in", length=11, width=1.2,
                   left=True, right=False, labelleft=left_col, labelsize=15, pad=5)
    ax.tick_params(axis="y", which="minor", direction="in", length=6, width=1.0,
                   left=True, right=False)
    ax.grid(True, which="major", axis="both", color="black", lw=1.1, ls=(0, (2.5, 3)))
    ax.set_axisbelow(True)
    for s in ax.spines.values():
        s.set_visible(True)
        s.set_color("black")
        s.set_linewidth(1.3)


halo = [pe.withStroke(linewidth=1.0, foreground="#b9cf52")]


def build_group(xs, ys, panels, xlims, ylims, serif_rows):
    for r in range(5):
        for c in range(2):
            ax = px_axes(xs[c], xs[c + 1], ys[r], ys[r + 1])
            ax.set_yscale("log")
            draw_panel(ax, *panels[r][c])
            style_panel(ax, xlims[c], ylims[r], r == 0, r == 4, c == 0)
            if c == 0:
                fam = ["Liberation Serif", "DejaVu Serif"] if r in serif_rows else None
                ax.text(0.975, 0.9, particle_labels[r], transform=ax.transAxes, ha="right",
                        va="top", fontsize=18, color=GREEN, family=fam, path_effects=halo,
                        zorder=10)
            if r == 0:
                ax.text(0.54 if c == 0 else 0.48, 0.80, angle_labels[c],
                        transform=ax.transAxes, ha="center", va="center", fontsize=16,
                        color=GREEN, path_effects=halo, zorder=10)


build_group([115, 388, 665], [66, 257, 448, 639, 830, 1020], al_panels, al_xlims, al_ylims, [])
build_group([818, 1091, 1363], [68, 257, 447, 636, 826, 1012], au_panels, au_xlims, au_ylims,
            [1, 2])

# group titles and axis titles
fig.text(392 / W, 1 - 30 / H, "P + Al", ha="center", va="center", fontsize=29,
         fontweight="bold", family=["Roboto", "DejaVu Sans"])
fig.text(1110 / W, 1 - 33 / H, "P + Au", ha="center", va="center", fontsize=29,
         fontweight="bold", family=["Roboto", "DejaVu Sans"])
ylabel = r"d$^{2}$σ/dEdΩ[ mb / sr MeV]"
fig.text(40 / W, 1 - 548 / H, ylabel, rotation=90, ha="center", va="center", fontsize=21)
fig.text(742 / W, 1 - 542 / H, ylabel, rotation=90, ha="center", va="center", fontsize=21)
fig.text(388 / W, 1 - 1073 / H, "E [ MeV ]", ha="center", va="center", fontsize=21)
fig.text(1090 / W, 1 - 1066 / H, "E [ MeV ]", ha="center", va="center", fontsize=21)

# dashed highlight rings around the forward-angle proton spectra
ov = fig.add_axes([0, 0, 1, 1], zorder=20)
ov.set_xlim(0, W)
ov.set_ylim(H, 0)
ov.axis("off")
for cx, cy, w, h, ang in [(208, 153, 212, 92, 6.5), (923, 168, 210, 70, 9.5)]:
    ov.add_patch(Ellipse((cx, cy), w, h, angle=ang, fill=False, ec=ORANGE, lw=3.2,
                         ls=(0, (5.4, 2.5))))

fig.savefig("out.png", dpi=100, facecolor="white")
